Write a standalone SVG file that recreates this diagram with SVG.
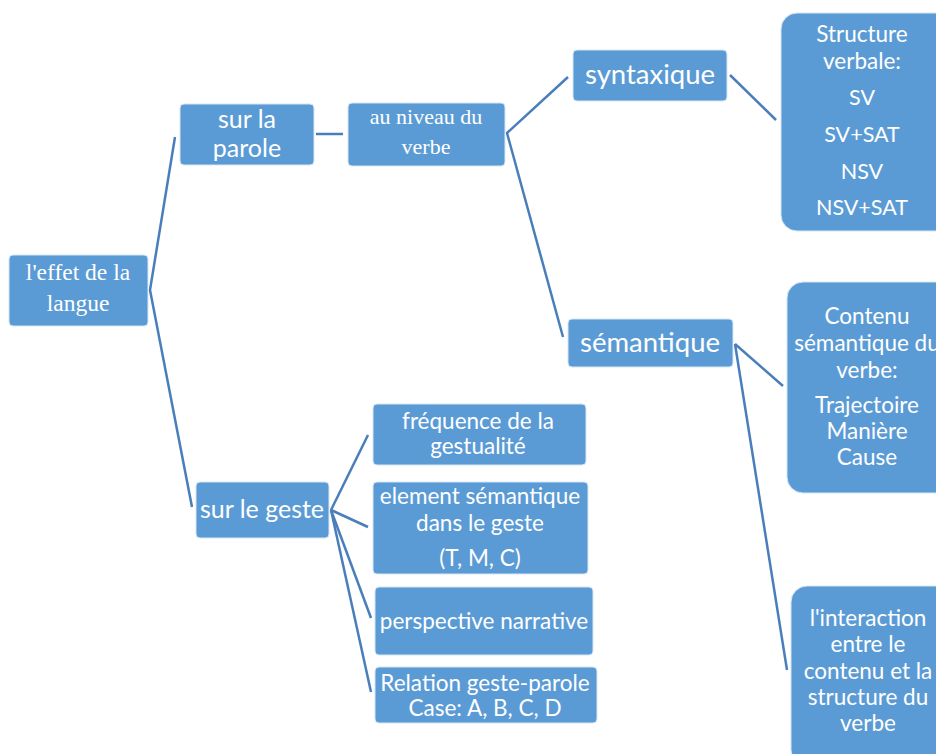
<svg xmlns="http://www.w3.org/2000/svg" width="936" height="754" viewBox="0 0 936 754">
<style>
.box{fill:#5B9BD5;stroke:#D6E6F5;stroke-width:1}
.s{font-family:Lato,"Open Sans",sans-serif;fill:#FFFFFF;text-anchor:middle}
.r{font-family:"Liberation Serif",serif;fill:#FFFFFF;text-anchor:middle}
.c{stroke:#4A7EBB;stroke-width:2.5;fill:none}
.m{font-size:22.5px}
.k{font-size:21.5px}
</style>
<rect width="936" height="754" fill="#FFFFFF"/>
<g id="connectors">
<polyline class="c" points="175,137 150,290 192,507"/>
<line class="c" x1="316" y1="134" x2="343" y2="134"/>
<polyline class="c" points="568,77 507,133 563,337"/>
<line class="c" x1="730" y1="75" x2="776" y2="120"/>
<line class="c" x1="735" y1="344" x2="783" y2="386"/>
<line class="c" x1="735" y1="344" x2="787" y2="670"/>
<line class="c" x1="331" y1="510" x2="368" y2="435"/>
<line class="c" x1="331" y1="510" x2="368" y2="527"/>
<line class="c" x1="331" y1="510" x2="371" y2="618"/>
<line class="c" x1="331" y1="510" x2="371" y2="692"/>
</g>
<g id="effet">
<rect class="box" x="9" y="255" width="139" height="71" rx="4"/>
<text class="r" x="78" y="280" font-size="23.5">l'effet de la</text>
<text class="r" x="78" y="311" font-size="23.5">langue</text>
</g>
<g id="parole">
<rect class="box" x="180" y="104" width="134" height="61" rx="4"/>
<text class="s" x="247" y="128" font-size="25">sur la</text>
<text class="s" x="247" y="157" font-size="25">parole</text>
</g>
<g id="niveau">
<rect class="box" x="348" y="103" width="157" height="63" rx="4"/>
<text class="r" x="426" y="124" font-size="22">au niveau du</text>
<text class="r" x="426" y="154" font-size="22">verbe</text>
</g>
<g id="syntaxique">
<rect class="box" x="573" y="50" width="154" height="51" rx="4"/>
<text class="s" x="650" y="84" font-size="27.5">syntaxique</text>
</g>
<g id="structure">
<rect class="box" x="781" y="13" width="175" height="218" rx="16"/>
<text class="s m" x="862" y="42">Structure</text>
<text class="s m" x="862" y="69">verbale:</text>
<text class="s k" x="862" y="105">SV</text>
<text class="s k" x="862" y="142">SV+SAT</text>
<text class="s k" x="862" y="179">NSV</text>
<text class="s k" x="862" y="215">NSV+SAT</text>
</g>
<g id="semantique">
<rect class="box" x="568" y="319" width="165" height="48" rx="4"/>
<text class="s" x="650" y="352" font-size="27.5">sémantique</text>
</g>
<g id="contenu">
<rect class="box" x="787" y="282" width="170" height="211" rx="16"/>
<text class="s m" x="867" y="324">Contenu</text>
<text class="s m" x="867" y="351">sémantique du</text>
<text class="s m" x="867" y="378">verbe:</text>
<text class="s m" x="867" y="413">Trajectoire</text>
<text class="s m" x="867" y="439">Manière</text>
<text class="s m" x="867" y="465">Cause</text>
</g>
<g id="interaction">
<rect class="box" x="791" y="586" width="165" height="180" rx="16"/>
<text class="s m" x="868" y="626">l'interaction</text>
<text class="s m" x="868" y="652">entre le</text>
<text class="s m" x="868" y="679">contenu et la</text>
<text class="s m" x="868" y="705">structure du</text>
<text class="s m" x="868" y="731">verbe</text>
</g>
<g id="geste">
<rect class="box" x="196" y="482" width="133" height="56" rx="4"/>
<text class="s" x="262" y="518" font-size="25">sur le geste</text>
</g>
<g id="frequence">
<rect class="box" x="373" y="404" width="213" height="61" rx="4"/>
<text class="s m" x="478" y="429">fréquence de la</text>
<text class="s m" x="478" y="454">gestualité</text>
</g>
<g id="element">
<rect class="box" x="373" y="482" width="215" height="92" rx="4"/>
<text class="s m" x="480" y="504">element sémantique</text>
<text class="s m" x="480" y="531">dans le geste</text>
<text class="s m" x="480" y="566">(T, M, C)</text>
</g>
<g id="perspective">
<rect class="box" x="375" y="587" width="218" height="68" rx="4"/>
<text class="s m" x="484" y="629">perspective narrative</text>
</g>
<g id="relation">
<rect class="box" x="375" y="667" width="222" height="56" rx="4"/>
<text class="s m" x="485" y="691">Relation geste-parole</text>
<text class="s m" x="485" y="716">Case: A, B, C, D</text>
</g>
</svg>
